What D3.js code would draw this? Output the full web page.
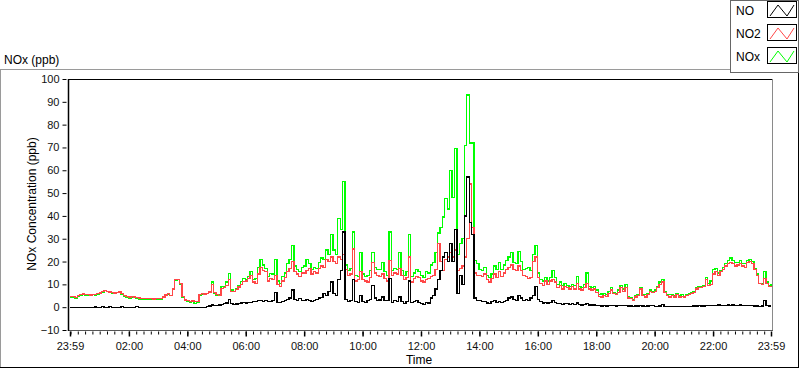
<!DOCTYPE html>
<html><head><meta charset="utf-8">
<script src="https://cdn.jsdelivr.net/npm/d3@7"></script>
<style>
html,body{margin:0;padding:0;background:#fff;}
svg{display:block;font-family:"Liberation Sans",Arial,sans-serif;}
</style></head>
<body><svg id="c" width="800" height="369"></svg>
<script>
// ---- data: 5-minute samples from 23:59 (previous day) to 23:59 ----
const startLabel = "23:59";
const stepMinutes = 5;
const NO = [
0,0,0,0,0,0,0,0,0,0,0.1,0,
0,0.3,0,0,0.2,0,0,0,0,0.2,0,0,
0,0,0,0.2,0,0,0,0,0,0,0,0,
0,0,0,0,0,0,0,0,0,0,0,0,
0,0,0,0,0,0,0,0,0.3,0.5,0.9,0.6,
0.8,1.0,1.2,1.5,1.8,3.5,1.5,1.3,1.4,1.6,1.8,2.0,
1.8,2.0,2.2,2.5,2.4,2.8,3.0,2.6,2.8,2.4,2.6,3.0,
6.5,2.0,2.2,2.6,3.0,3.4,4.0,7.5,3.5,3.0,3.8,3.0,
3.0,3.5,3.0,2.5,2.8,3.5,4.0,4.2,6.0,5.0,7.0,11.0,
6.0,5.0,12.0,16.0,33.0,3.5,2.5,3.0,12.0,2.5,2.0,5.0,
2.5,2.0,2.8,3.5,9.5,4.0,3.0,3.2,4.5,2.8,3.0,12.5,
2.0,3.0,2.5,4.5,2.5,1.5,2.5,11.5,2.0,2.5,3.0,2.0,
1.5,1.2,2.0,1.8,4.0,5.0,8.0,12.0,16.0,22.0,24.0,20.0,
28.0,20.0,34.0,6.0,14.0,10.0,40.0,57.0,37.0,32.0,4.0,3.0,
3.0,2.5,2.5,1.8,1.5,2.5,3.0,2.0,2.5,2.0,2.5,3.0,
4.0,4.5,3.5,3.0,5.0,4.0,3.0,3.5,3.0,4.0,5.0,9.0,
3.5,2.5,1.8,2.0,1.8,2.0,3.0,2.0,1.5,1.5,1.2,1.5,
1.5,1.3,1.5,1.2,1.8,1.2,1.0,1.3,1.5,1.0,1.0,1.0,
0.8,0.6,0.5,0.7,0.5,0.6,0.8,0.6,0.5,0.6,0.7,0.6,
0.6,0.5,0.5,0.4,0.5,0.5,0.6,0.5,0.4,0.5,0.8,0.6,
0.3,0.3,0.5,1.2,0.4,0.3,0.3,0.3,0.3,0.3,0.3,0.3,
0.3,0.4,0.3,0.4,0.5,0.5,0.6,0.5,0.5,0.8,0.6,0.8,
0.6,0.8,0.9,0.8,0.7,0.8,1.0,0.8,0.9,0.7,0.8,0.9,
0.8,0.7,0.8,0.6,0.7,0.5,0.5,0.4,0.5,3.0,0.6,0.5,
0.5];
const NO2 = [
4.8,4.6,4.3,5.0,5.6,5.8,5.5,5.6,5.4,5.7,5.5,5.9,
6.2,6.8,7.2,7.0,6.6,6.4,6.2,6.5,6.7,5.9,5.0,4.7,
4.5,4.8,4.5,4.2,4.0,3.9,3.8,3.8,3.7,3.8,3.6,3.7,
3.8,3.9,4.4,5.4,6.0,5.2,8.0,12.0,12.1,10.5,4.8,3.2,
2.8,2.6,2.7,2.5,2.4,5.5,6.0,5.8,6.0,6.6,9.8,6.5,
5.6,5.0,8.2,8.6,9.5,12.0,7.0,6.8,7.6,8.8,10.0,11.2,
11.5,12.5,14.0,11.0,10.5,14.5,17.5,16.0,15.5,11.5,12.5,12.0,
14.0,10.0,9.2,11.5,13.0,15.5,17.0,20.0,15.5,14.5,13.5,15.0,
15.0,16.0,17.0,14.5,15.5,15.0,17.0,18.0,17.5,21.0,20.0,22.0,
20.0,19.0,22.0,21.0,23.0,16.5,14.0,14.5,25.5,11.5,12.0,15.5,
12.0,11.5,11.0,13.0,19.5,15.0,14.0,13.5,14.5,12.5,11.5,20.5,
14.0,15.0,14.5,17.0,14.0,12.0,13.0,22.0,11.0,12.5,13.5,13.0,
11.5,11.0,12.0,12.5,13.5,14.0,16.5,28.0,20.0,16.0,21.0,22.0,
24.0,22.0,25.0,16.0,17.0,18.0,22.0,30.0,54.0,35.0,15.0,14.0,
14.0,13.5,14.5,12.0,11.0,12.5,14.5,13.0,15.5,13.5,15.0,16.5,
17.5,18.5,16.5,16.0,18.0,16.0,14.0,13.5,12.5,13.0,20.0,22.0,
13.0,10.5,9.5,11.5,10.0,11.5,12.0,11.0,8.5,9.5,8.0,9.0,
8.5,8.0,9.0,8.0,10.5,8.0,7.5,8.5,10.5,8.0,7.5,8.0,
6.5,4.8,4.5,5.0,4.8,6.0,7.5,6.0,5.5,6.5,8.5,7.0,
8.5,4.0,3.8,3.0,4.5,5.0,8.0,5.0,4.5,5.5,7.0,6.5,
7.0,8.5,10.0,11.0,6.5,5.0,4.5,5.0,4.5,5.5,4.5,4.8,
4.5,5.0,5.5,6.0,6.5,8.0,8.5,8.5,9.0,12.0,9.5,10.0,
14.5,15.5,14.0,15.5,16.5,18.0,19.0,19.5,19.0,18.0,18.5,19.0,
18.0,17.5,19.5,20.0,19.0,16.5,14.0,10.5,10.0,12.5,10.5,9.0,
9.5];
const NOx = [
4.5,4.3,4.0,4.7,5.3,5.5,5.3,5.4,5.2,5.5,5.3,5.6,
6.0,6.7,7.3,6.9,6.3,6.2,6.0,6.3,6.4,5.6,4.8,4.4,
4.0,4.4,4.2,3.8,3.6,3.5,3.4,3.4,3.3,3.4,3.3,3.5,
3.5,3.6,4.1,5.2,5.8,5.0,7.6,11.6,12.0,10.2,4.5,2.9,
2.4,2.2,2.4,1.5,2.1,5.2,5.7,5.5,5.9,6.4,11.0,6.2,
5.3,5.4,9.0,9.2,11.0,14.8,7.5,7.0,8.3,9.5,11.2,12.6,
12.2,13.4,15.5,12.0,12.5,17.5,20.8,18.5,17.0,13.5,14.8,14.5,
21.0,11.5,10.5,13.5,15.0,19.0,21.0,27.0,18.0,16.5,15.5,17.5,
18.0,21.0,19.0,16.5,17.5,17.0,19.5,21.5,21.0,25.0,23.0,32.0,
25.0,23.0,39.0,34.0,55.0,18.5,16.0,17.0,33.0,14.0,13.5,24.0,
14.5,13.5,14.0,16.0,24.0,17.5,16.5,16.5,19.5,15.5,14.0,33.0,
16.0,17.0,16.5,24.0,16.0,14.0,15.5,32.0,13.5,15.0,16.5,15.5,
14.0,13.0,15.5,15.0,18.5,19.5,24.0,32.5,35.0,39.5,47.5,43.0,
60.0,48.0,69.5,23.0,28.0,30.0,71.0,93.0,72.0,72.0,20.5,19.0,
16.5,16.0,17.5,14.0,13.0,14.5,18.0,16.5,19.5,16.5,18.5,20.5,
22.0,24.0,19.5,19.0,24.5,20.0,16.5,17.0,17.5,16.0,23.0,27.0,
15.0,12.0,11.5,13.0,11.5,13.0,16.0,13.0,10.0,11.0,9.5,10.5,
9.5,9.0,10.0,9.5,13.5,9.0,8.5,10.0,15.0,9.0,8.5,9.0,
7.5,5.5,5.8,6.0,5.5,6.8,8.5,6.5,6.0,7.5,9.5,8.0,
9.8,4.5,4.3,3.5,5.0,5.5,8.5,5.5,5.5,6.0,7.5,7.0,
7.5,9.0,11.0,12.0,7.0,5.5,5.5,5.5,5.0,6.0,5.0,5.5,
4.8,5.5,6.0,6.5,7.0,8.5,9.0,9.0,9.5,13.0,10.5,11.5,
16.5,17.0,15.0,16.0,17.5,19.0,20.5,21.5,20.5,19.5,19.5,20.5,
19.0,19.0,20.5,21.0,20.0,17.0,14.5,10.5,10.5,15.5,11.0,9.5,
10.0];
const xTickLabels = ["23:59","02:00","04:00","06:00","08:00","10:00","12:00","14:00","16:00","18:00","20:00","22:00","23:59"];
const yTicks = [-10,0,10,20,30,40,50,60,70,80,90,100];
const seriesNames = ["NO","NO2","NOx"];
const seriesColors = ["#000000","#ff4747","#00ff00"];
const chartTitle = "NOx (ppb)";
const yTitle = "NOx Concentration (ppb)";
const xTitle = "Time";

// ---- build ----
const svg = d3.select("#c");
const parse = d3.timeParse("%Y-%m-%d %H:%M");
const t0 = parse("2000-01-01 " + startLabel);
const t1 = d3.timeMinute.offset(t0, 24*60);
const times = NO2.map((_, i) => d3.timeMinute.offset(t0, i*stepMinutes));
const tickDates = xTickLabels.map((l, i) => i === 0 ? t0 : (i === xTickLabels.length-1 ? t1 : parse("2000-01-02 " + l)));

const L = 68, R = 772, T = 79, B = 330;
const x = d3.scaleTime().domain([t0, t1]).range([70, 771]);
const y = d3.scaleLinear().domain([-10, 100]).range([B, T]);

// outer frame
svg.append("line").attr("x1",0.5).attr("x2",0.5).attr("y1",69.5).attr("y2",367).attr("stroke","#9a9a9a");
svg.append("line").attr("x1",0).attr("x2",731).attr("y1",69.5).attr("y2",69.5).attr("stroke","#9a9a9a");
svg.append("line").attr("x1",0).attr("x2",799).attr("y1",367.5).attr("y2",367.5).attr("stroke","#000");
svg.append("line").attr("x1",798.5).attr("x2",798.5).attr("y1",73).attr("y2",368).attr("stroke","#000");

// title
svg.append("text").attr("x",4).attr("y",64).attr("font-size",12).attr("fill","#000").text(chartTitle);

// plot area
const clip = svg.append("clipPath").attr("id","pc");
clip.append("rect").attr("x",L+1).attr("y",T+1).attr("width",R-L-1).attr("height",B-T-1);

const lineGen = d3.line().x((d,i)=>x(times[i])).y(d=>y(d)).curve(d3.curveStepAfter);
const g = svg.append("g").attr("clip-path","url(#pc)");
const order = [2,1,0];
const arrays = [NO, NO2, NOx];
order.forEach(k => {
  g.append("path").attr("d", lineGen(arrays[k])).attr("fill","none")
   .attr("stroke", seriesColors[k]).attr("stroke-width",1.3)
   .attr("shape-rendering","crispEdges");
});

// plot borders
svg.append("line").attr("x1",L).attr("x2",R+1).attr("y1",T+0.5).attr("y2",T+0.5).attr("stroke","#000");
svg.append("line").attr("x1",R+0.5).attr("x2",R+0.5).attr("y1",T).attr("y2",B+1).attr("stroke","#8a8a8a");
svg.append("line").attr("x1",L).attr("x2",R+1).attr("y1",B+0.5).attr("y2",B+0.5).attr("stroke","#555");
svg.append("line").attr("x1",L+0.5).attr("x2",L+0.5).attr("y1",T).attr("y2",B+1).attr("stroke","#000").attr("stroke-width",1.5);

// y axis
const yAxis = d3.axisLeft(y).tickValues(yTicks).tickSize(4).tickPadding(3).tickFormat(d3.format("d"));
const ya = svg.append("g").attr("transform",`translate(${L-1.5},0)`).call(yAxis);
ya.select(".domain").remove();
ya.selectAll("line").attr("stroke","#000");
ya.selectAll("text").attr("font-size",11).attr("fill","#111").attr("font-family","Liberation Sans, Arial, sans-serif");

// x axis: minor ticks every 15 minutes, major ticks at labels
const minor = d3.timeMinute.every(15).range(t0, t1).filter(d => d.getMinutes() % 15 === 0);
const xMinor = d3.axisBottom(x).tickValues(minor).tickSize(3).tickFormat("");
const xm = svg.append("g").attr("transform",`translate(0,${B+1.5})`).call(xMinor);
xm.select(".domain").remove();
xm.selectAll("line").attr("stroke","#000");
const xAxis = d3.axisBottom(x).tickValues(tickDates).tickSize(5).tickPadding(6)
  .tickFormat((d,i) => xTickLabels[i]);
const xa = svg.append("g").attr("transform",`translate(0,${B+1.5})`).call(xAxis);
xa.select(".domain").remove();
xa.selectAll("line").attr("stroke","#000").attr("stroke-width",1.5);
xa.selectAll("text").attr("font-size",11).attr("fill","#111").attr("font-family","Liberation Sans, Arial, sans-serif");

// axis titles
svg.append("text").attr("x",419).attr("y",364).attr("text-anchor","middle").attr("font-size",12).attr("fill","#000").text(xTitle);
svg.append("text").attr("transform","translate(36,204) rotate(-90)").attr("text-anchor","middle")
  .attr("font-size",12).attr("fill","#000").text(yTitle);

// legend
const lg = svg.append("g");
lg.append("rect").attr("x",730.5).attr("y",0.5).attr("width",68).attr("height",72).attr("fill","#fff").attr("stroke","#666");
seriesNames.forEach((n, i) => {
  const cy = 10 + i*23;
  lg.append("text").attr("x",736).attr("y",cy+5).attr("font-size",12).attr("fill","#000").text(n);
  lg.append("rect").attr("x",767.5).attr("y",cy-8.5).attr("width",29).attr("height",16).attr("fill","#fff").attr("stroke","#000");
  const zz = [[770,cy+6],[778,cy-5],[787,cy+6],[794,cy-5]];
  lg.append("path").attr("d", d3.line()(zz)).attr("fill","none").attr("stroke",seriesColors[i]).attr("stroke-width",1);
});
</script></body></html>
